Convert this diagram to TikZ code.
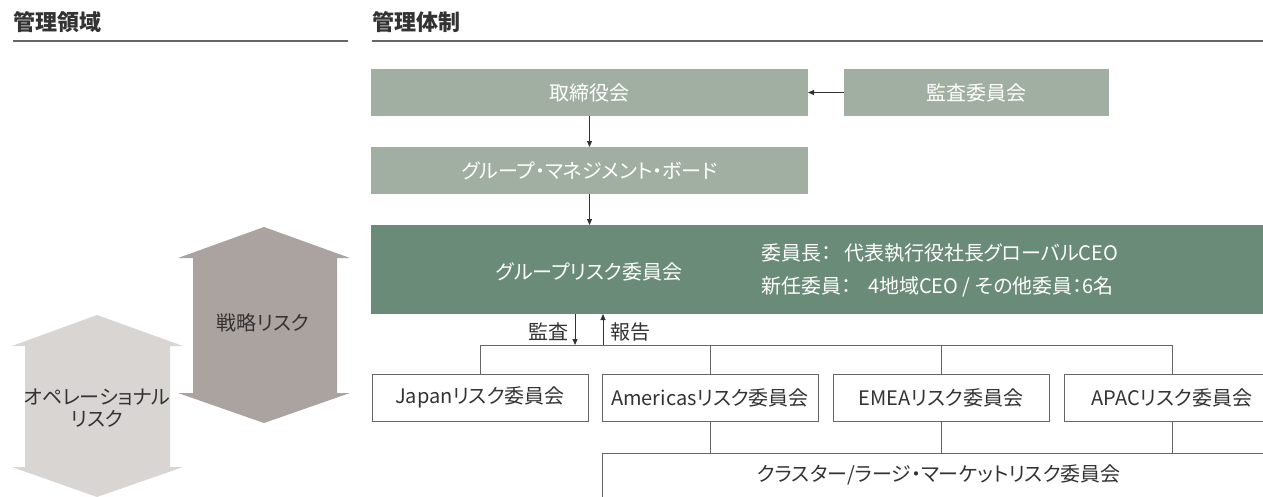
\documentclass[tikz,border=0pt]{standalone}
\usepackage{fontspec}
\setmainfont{Noto Sans CJK JP}[RawFeature={+palt}]
\usetikzlibrary{arrows.meta,calc}
\definecolor{lg}{HTML}{A1AFA2}
\definecolor{dg}{HTML}{6A8B78}
\definecolor{sr}{HTML}{ABA39F}
\definecolor{orisk}{HTML}{D8D5D2}
\definecolor{ln}{HTML}{666666}
\definecolor{tx}{HTML}{333333}
\begin{document}
\begin{tikzpicture}[x=1pt,y=-1pt,
  every node/.style={inner sep=0pt, outer sep=0pt, font=\fontsize{20}{24}\selectfont},
  topbox/.style={fill=lg, minimum width=437pt, minimum height=47pt, text=white},
  regbox/.style={draw=ln, line width=0.9pt, minimum width=216pt, minimum height=47pt, text=tx},
  conn/.style={draw=ln, line width=0.9pt},
  arr/.style={draw=tx, line width=0.9pt, -{Triangle[length=6pt,width=5pt]}},
  head/.style={font=\fontsize{22}{26}\selectfont\bfseries, text=tx, anchor=west},
  rule/.style={draw=ln, line width=1.5pt},
  wtext/.style={text=white},
  dtext/.style={text=tx}]
\useasboundingbox (0,0) rectangle (1263,496);
\clip (0,0) rectangle (1263,496);

% headers
\node[head] (h1) at (13,22.5) {管理領域};
\node[head] (h2) at (372,22.5) {管理体制};
\coordinate (u1a) at (13,41);
\coordinate (u1b) at (348,41);
\coordinate (u2a) at (372,41);
\coordinate (u2b) at (1263,41);
\draw[rule] (u1a) -- (u1b);
\draw[rule] (u2a) -- (u2b);

% risk arrows
\fill[orisk] (97,315) -- (183,346) -- (170,346) -- (170,467) -- (183,467) -- (97,497) -- (12,467) -- (25,467) -- (25,346) -- (12,346) -- cycle;
\fill[sr] (264,227) -- (350,258) -- (337,258) -- (337,393) -- (350,393) -- (264,423) -- (178,393) -- (193,393) -- (193,258) -- (178,258) -- cycle;
\node[dtext] (senryaku) at (263,323) {戦略リスク};
\node[dtext, align=center, font=\fontsize{20}{21.5}\selectfont] (oprisk) at (97,408) {オペレーショナル\\リスク};

% top boxes
\node[topbox] (board) at (589.5,92.5) {取締役会};
\node[topbox, minimum width=265pt] (audit) at (976.5,92.5) {監査委員会};
\node[topbox] (gmb) at (589.5,170.5) {グループ・マネジメント・ボード};
\node[fill=dg, minimum width=900pt, minimum height=89pt] (grc) at (821,269.5) {};
\node[wtext] (grct) at (589,272) {グループリスク委員会};
\node[wtext, anchor=west] (chair) at (761,253) {委員長：\hspace{13pt}代表執行役社長グローバルCEO};
\node[wtext, anchor=west] (members) at (761,287) {新任委員：\hspace{17pt}4地域CEO / その他委員：6名};

\draw[arr] (audit.west) -- (board.east);
\draw[arr] (board.south) -- (gmb.north);
\draw[arr] (gmb.south) -- (gmb.south |- grc.north);

% regional committees
\node[regbox] (japan) at (480,397.5) {Japanリスク委員会};
\node[regbox] (americas) at (710,397.5) {Americasリスク委員会};
\node[regbox] (emea) at (941,397.5) {EMEAリスク委員会};
\node[regbox] (apac) at (1172,397.5) {APACリスク委員会};
\node[draw=ln, line width=0.9pt, minimum width=700pt, minimum height=60pt] (cluster) at (952,483) {};
\node[dtext] (clustert) at (939,475) {クラスター/ラージ・マーケットリスク委員会};

\coordinate (bus) at (0,345);
\coordinate (kx) at (575,0);
\coordinate (hx) at (603,0);
\draw[conn] (japan.north) -- (japan.north |- bus) -- (apac.north |- bus) -- (apac.north);
\draw[conn] (americas.north) -- (americas.north |- bus);
\draw[conn] (emea.north) -- (emea.north |- bus);
\draw[arr] (grc.south -| kx) -- (bus -| kx);
\draw[arr] (bus -| hx) -- (grc.south -| hx);
\node[dtext, anchor=east] (kansa) at (568,332) {監査};
\node[dtext, anchor=west] (hokoku) at (610,332) {報告};

\draw[conn] (americas.south) -- (americas.south |- cluster.north);
\draw[conn] (emea.south) -- (emea.south |- cluster.north);
\draw[conn] (apac.south) -- (apac.south |- cluster.north);
\end{tikzpicture}
\end{document}
